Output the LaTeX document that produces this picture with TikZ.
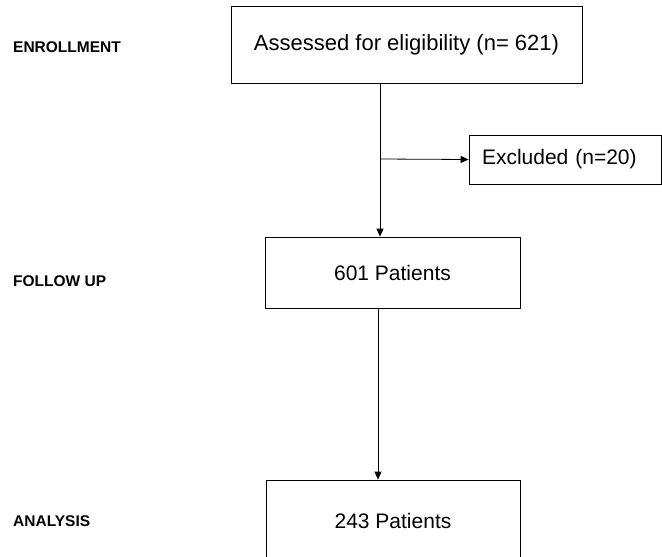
\documentclass[tikz,border=0pt]{standalone}
\usepackage{fontspec}
\setmainfont{Liberation Sans}
\usetikzlibrary{arrows.meta}
\begin{document}
\begin{tikzpicture}[
      box/.style={draw, line width=0.8pt, inner sep=0pt, font=\fontsize{21}{24}\selectfont},
      stage/.style={anchor=west, inner sep=0pt, font=\bfseries\fontsize{15.5}{18}\selectfont},
      arrow/.style={line width=0.8pt, -{Triangle[length=8pt,width=7pt]}},
      x=1pt,
      y=-1pt]
    \useasboundingbox (0,0) rectangle (662,557);

    \node[stage] (enrol)  at ( 13,  47) {ENROLLMENT};
    \node[stage] (follow) at ( 13, 281) {FOLLOW UP};
    \node[stage] (analys) at ( 13, 521) {ANALYSIS};

    \node[box, minimum width=351, minimum height=77, font=\fontsize{22}{26}\selectfont] (assess) at (406.5, 44.5) {Assessed for eligibility (n= 621)};
    \node[box, minimum height=49, inner xsep=13, text width=166, align=left] (excl) at (565.0, 159.5) {Excluded (n=20)};
    \node[box, minimum width=255, minimum height=71] (p601) at (392.5, 272.5) {601 Patients};
    \node[box, minimum width=254, minimum height=82] (p243) at (393.0, 521.0) {243 Patients};

    \coordinate (split) at (380, 159);
    \coordinate (down)  at (378, 0);

    \draw[line width=0.8pt] (assess.south -| split) -- (split);
    \draw[arrow] (split) -- (p601.north -| split);
    \draw[arrow] (split) -- (excl.west);
    \draw[arrow] (p601.south -| down) -- (p243.north -| down);

  \end{tikzpicture}
\end{document}
